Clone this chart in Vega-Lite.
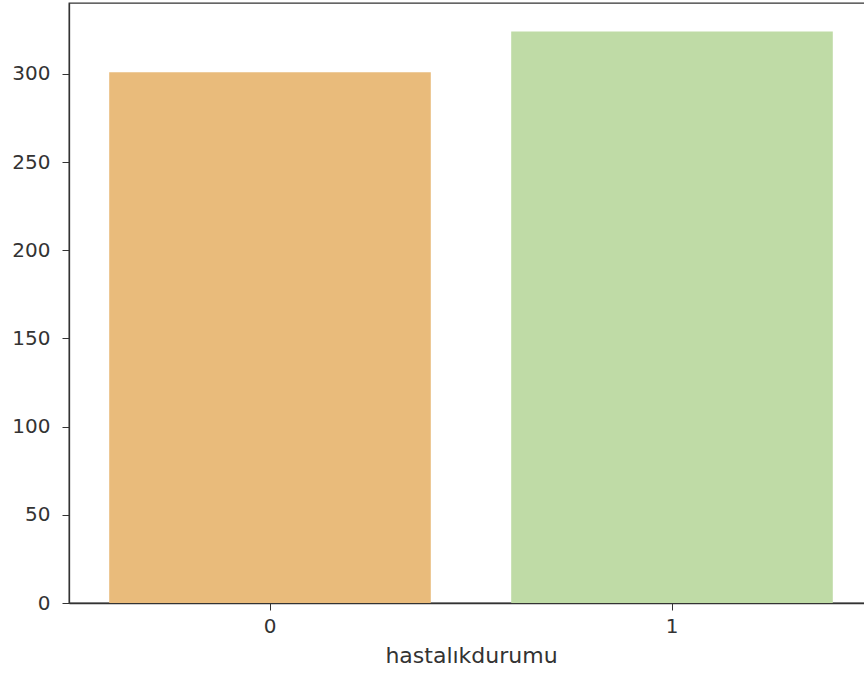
{
  "$schema": "https://vega.github.io/schema/vega-lite/v6.json",
  "autosize": {"type": "none"},
  "padding": {"left": 69, "top": 3, "right": 0, "bottom": 76},
  "width": 804,
  "height": 600,
  "background": "white",
  "config": {
    "font": "DejaVu Sans",
    "view": {"stroke": "#333333", "strokeWidth": 1.3}
  },
  "data": {
    "values": [
      {"hastalikdurumu": "0", "count": 301},
      {"hastalikdurumu": "1", "count": 324}
    ]
  },
  "mark": {"type": "bar"},
  "encoding": {
    "x": {
      "field": "hastalikdurumu",
      "type": "nominal",
      "title": "hastalıkdurumu",
      "scale": {"paddingInner": 0.2, "paddingOuter": 0.1},
      "axis": {
        "labelAngle": 0,
        "labelFontSize": 20,
        "labelColor": "#333333",
        "titleFontSize": 22,
        "titleFontWeight": "normal",
        "titleColor": "#333333",
        "titlePadding": 9,
        "tickSize": 7,
        "tickColor": "#333333",
        "domainColor": "#333333",
        "domainWidth": 1.3,
        "labelPadding": 6
      }
    },
    "y": {
      "field": "count",
      "type": "quantitative",
      "title": null,
      "scale": {"domain": [0, 340.2], "nice": false},
      "axis": {
        "values": [0, 50, 100, 150, 200, 250, 300],
        "grid": false,
        "labelFontSize": 20,
        "labelColor": "#333333",
        "tickSize": 7,
        "tickColor": "#333333",
        "domainColor": "#333333",
        "domainWidth": 1.3,
        "labelPadding": 12
      }
    },
    "color": {
      "field": "hastalikdurumu",
      "type": "nominal",
      "legend": null,
      "scale": {"domain": ["0", "1"], "range": ["#E9BB7B", "#BFDBA6"]}
    }
  }
}
